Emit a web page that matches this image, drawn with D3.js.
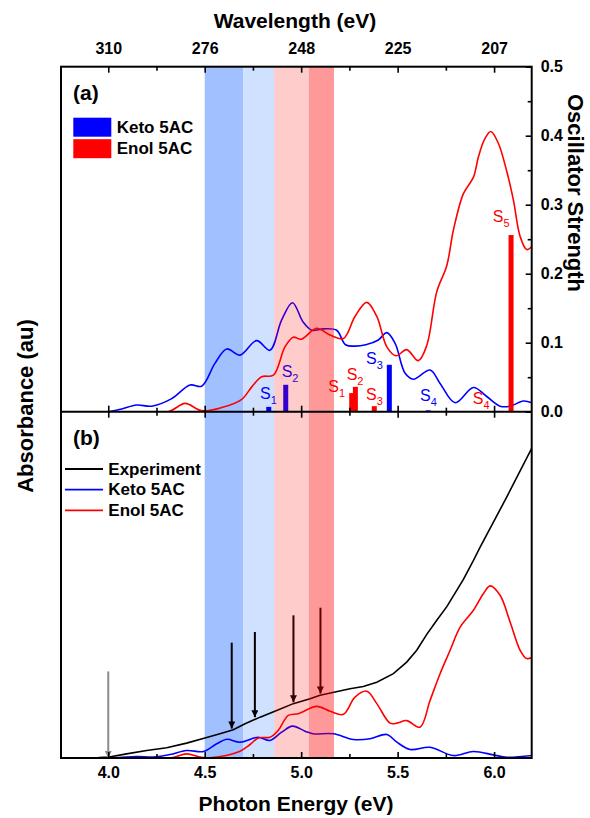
<!DOCTYPE html>
<html>
<head>
<meta charset="utf-8">
<script src="https://cdn.jsdelivr.net/npm/d3@7"></script>
<style>
  body { margin: 0; background: #fff; }
  svg text { font-family: Arial, "Liberation Sans", sans-serif; }
</style>
</head>
<body>
<div id="chart"></div>
<script>
// ---- data ----
// panel (a): simulated spectra (same units as oscillator strength axis)
let ketoE_a = [4.0, 4.07, 4.147, 4.225, 4.329, 4.424, 4.484, 4.553, 4.614, 4.683, 4.769, 4.838, 4.899, 4.955, 5.01, 5.055, 5.115, 5.184, 5.23, 5.279, 5.335, 5.40, 5.444, 5.487, 5.539, 5.582, 5.668, 5.72, 5.798, 5.893, 5.962, 6.031, 6.083, 6.152, 6.195];
let ketoA  = [0, 0.004, 0.0097, 0.008, 0.019, 0.0387, 0.037, 0.070, 0.091, 0.082, 0.103, 0.089, 0.133, 0.158, 0.130, 0.118, 0.120, 0.118, 0.097, 0.095, 0.097, 0.104, 0.1146, 0.099, 0.0556, 0.047, 0.0604, 0.041, 0.013, 0.035, 0.022, 0.008, 0.008, 0.0155, 0.013];
let enolE_a = [4.0, 4.311, 4.398, 4.484, 4.588, 4.692, 4.744, 4.795, 4.856, 4.916, 4.959, 5.0, 5.08, 5.15, 5.219, 5.279, 5.34, 5.392, 5.444, 5.492, 5.547, 5.607, 5.651, 5.703, 5.755, 5.789, 5.841, 5.893, 5.919, 5.953, 5.983, 6.022, 6.066, 6.10, 6.135, 6.169, 6.195];
let enolA  = [0, 0, 0.012, 0.0015, 0.006, 0.018, 0.036, 0.0507, 0.053, 0.094, 0.108, 0.105, 0.121, 0.111, 0.106, 0.138, 0.1585, 0.138, 0.094, 0.081, 0.09, 0.074, 0.096, 0.174, 0.212, 0.263, 0.316, 0.340, 0.3696, 0.396, 0.406, 0.389, 0.348, 0.307, 0.254, 0.235, 0.239];

// oscillator strengths (sticks)
let ketoStickE = [4.832, 4.92, 5.457, 5.659];
let ketoStickF = [0.007, 0.039, 0.068, 0.002];
let ketoStickN = ["1", "2", "3", "4"];
let ketoLabelE = [4.787, 4.899, 5.336, 5.616];
let ketoLabelF = [0.018, 0.050, 0.069, 0.016];

let enolStickE = [5.262, 5.281, 5.379, 5.85, 6.088];
let enolStickF = [0.027, 0.036, 0.008, 0.001, 0.256];
let enolStickN = ["1", "2", "3", "4", "5"];
let enolLabelE = [5.141, 5.236, 5.336, 5.890, 5.993];
let enolLabelF = [0.029, 0.046, 0.017, 0.011, 0.275];

// panel (b): absorbance (au)
let expE = [3.88, 3.95, 4.005, 4.095, 4.199, 4.303, 4.406, 4.501, 4.579, 4.648, 4.709, 4.787, 4.873, 4.959, 5.046, 5.098, 5.253, 5.322, 5.392, 5.478, 5.547, 5.599, 5.651, 5.703, 5.755, 5.789, 5.841, 5.889, 5.927, 6.066, 6.195];
let expB = [0, 0.001, 0.003, 0.012, 0.0217, 0.0295, 0.043, 0.058, 0.070, 0.0815, 0.099, 0.118, 0.137, 0.157, 0.171, 0.181, 0.200, 0.2067, 0.219, 0.2435, 0.277, 0.311, 0.357, 0.398, 0.437, 0.468, 0.516, 0.566, 0.608, 0.754, 0.894];
let ketoE_b = [4.005, 4.147, 4.233, 4.32, 4.406, 4.493, 4.562, 4.614, 4.683, 4.778, 4.838, 4.899, 4.955, 5.02, 5.06, 5.167, 5.271, 5.357, 5.444, 5.496, 5.565, 5.668, 5.789, 5.893, 5.996, 6.066, 6.195];
let ketoB  = [0, 0.0043, 0.003, 0.010, 0.0217, 0.019, 0.041, 0.054, 0.0457, 0.060, 0.0506, 0.0746, 0.092, 0.0775, 0.070, 0.070, 0.0535, 0.0555, 0.068, 0.0457, 0.0246, 0.031, 0.007, 0.0188, 0.009, 0.002, 0.007];
let enolE_b = [4.005, 4.32, 4.406, 4.493, 4.597, 4.683, 4.735, 4.778, 4.838, 4.881, 4.933, 4.985, 5.08, 5.15, 5.219, 5.279, 5.34, 5.392, 5.461, 5.496, 5.547, 5.616, 5.668, 5.72, 5.772, 5.824, 5.893, 5.945, 5.979, 6.031, 6.083, 6.135, 6.169, 6.195];
let enolB  = [0, 0, 0.012, 0.001, 0.006, 0.0197, 0.039, 0.058, 0.060, 0.0795, 0.123, 0.128, 0.149, 0.135, 0.126, 0.176, 0.193, 0.157, 0.1007, 0.1007, 0.108, 0.089, 0.166, 0.2435, 0.311, 0.378, 0.4266, 0.475, 0.497, 0.47, 0.393, 0.311, 0.287, 0.29];

// arrows in panel (b)
let arrowE   = [4.64, 4.76, 4.96, 5.10];
let arrowTop = [0.333, 0.364, 0.412, 0.434];
let arrowTip = [0.085, 0.118, 0.161, 0.186];
let greyArrowE = 4.0, greyArrowTop = 0.25, greyArrowTip = 0.0;

// highlighted energy windows (blue ones behind the data, red ones over it)
let blueEdges = [4.5, 4.7, 4.86];
let redEdges = [4.86, 5.04, 5.17];

// ticks
let majorE = [4.0, 4.5, 5.0, 5.5, 6.0];
let minorE = [4.25, 4.75, 5.25, 5.75];
let energyLabels = ["4.0", "4.5", "5.0", "5.5", "6.0"];
let wavelengthLabels = ["310", "276", "248", "225", "207"];
let oscTicks = [0, 0.1, 0.2, 0.3, 0.4, 0.5];
let oscMinor = [0.05, 0.15, 0.25, 0.35, 0.45];

// ---- layout ----
const W = 590, H = 818;
const xL = 61, xR = 531.7, yT = 66.7, yM = 411.7, yBot = 758;

var svg = d3.select("#chart").append("svg")
  .attr("width", W).attr("height", H);

var x = d3.scaleLinear().domain([3.755, 6.195]).range([xL, xR]);
var yA = d3.scaleLinear().domain([0, 0.5]).range([yM, yT]);
var yB = d3.scaleLinear().domain([0, 1]).range([yBot, yM]);

let defs = svg.append("defs");
defs.append("clipPath").attr("id", "clipA")
  .append("rect").attr("x", xL).attr("y", yT).attr("width", xR - xL).attr("height", yM - yT);
defs.append("clipPath").attr("id", "clipB")
  .append("rect").attr("x", xL).attr("y", yM).attr("width", xR - xL).attr("height", yBot - yM);

let lineA = d3.line().x(d => x(d[0])).y(d => yA(d[1])).curve(d3.curveCatmullRom.alpha(0.5));
let lineB = d3.line().x(d => x(d[0])).y(d => yB(d[1])).curve(d3.curveCatmullRom.alpha(0.5));
let zip = (a, b) => a.map((v, i) => [v, b[i]]);

// blue windows behind everything
let blueFill = ["#a0c0ff", "#d0e0ff"];
svg.selectAll(".bband").data(d3.pairs(blueEdges)).enter().append("rect")
  .attr("x", d => x(d[0])).attr("width", d => x(d[1]) - x(d[0]))
  .attr("y", yT).attr("height", yBot - yT)
  .attr("fill", (d, i) => blueFill[i]);

// ---- panel (a) ----
var gA = svg.append("g").attr("clip-path", "url(#clipA)");
gA.append("path").datum(zip(ketoE_a, ketoA)).attr("d", lineA)
  .attr("fill", "none").attr("stroke", "#0000ff").attr("stroke-width", 1.6);
gA.append("path").datum(zip(enolE_a, enolA)).attr("d", lineA)
  .attr("fill", "none").attr("stroke", "#ff0000").attr("stroke-width", 1.6);

var barW = 5;
gA.selectAll(".kbar").data(zip(ketoStickE, ketoStickF)).enter().append("rect")
  .attr("x", d => x(d[0]) - barW / 2).attr("y", d => yA(d[1]))
  .attr("width", barW).attr("height", d => yA(0) - yA(d[1]))
  .attr("fill", "#0000ff");
gA.selectAll(".ebar").data(zip(enolStickE, enolStickF)).enter().append("rect")
  .attr("x", d => x(d[0]) - barW / 2).attr("y", d => yA(d[1]))
  .attr("width", barW).attr("height", d => yA(0) - yA(d[1]))
  .attr("fill", "#ff0000");

let stateLabel = (g, es, fs, ns, color) => {
  es.forEach((e, i) => {
    let t = g.append("text").attr("x", x(e)).attr("y", yA(fs[i]))
      .attr("fill", color).style("font-size", "16px");
    t.append("tspan").text("S");
    t.append("tspan").attr("dy", 5).style("font-size", "11px").text(ns[i]);
  });
};
stateLabel(svg, ketoLabelE, ketoLabelF, ketoStickN, "#0000ff");
stateLabel(svg, enolLabelE, enolLabelF, enolStickN, "#ff0000");

// ---- panel (b) ----
var gB = svg.append("g").attr("clip-path", "url(#clipB)");
gB.append("path").datum(zip(ketoE_b, ketoB)).attr("d", lineB)
  .attr("fill", "none").attr("stroke", "#0000ff").attr("stroke-width", 1.6);
gB.append("path").datum(zip(enolE_b, enolB)).attr("d", lineB)
  .attr("fill", "none").attr("stroke", "#ff0000").attr("stroke-width", 1.6);
gB.append("path").datum(zip(expE, expB)).attr("d", d3.line().x(d => x(d[0])).y(d => yB(d[1])))
  .attr("fill", "none").attr("stroke", "#000").attr("stroke-width", 1.6);

// arrows
[["headK", "#000"], ["headG", "#8c8c8c"]].forEach(m => {
  defs.append("marker").attr("id", m[0])
    .attr("viewBox", "0 0 10 10").attr("refX", 10).attr("refY", 5)
    .attr("markerUnits", "userSpaceOnUse").attr("markerWidth", 12).attr("markerHeight", 7)
    .attr("orient", "auto")
    .append("path").attr("d", "M0,0L10,5L0,10Z").attr("fill", m[1]);
});
svg.selectAll(".arrow").data(arrowE).enter().append("line")
  .attr("x1", d => x(d)).attr("x2", d => x(d))
  .attr("y1", (d, i) => yB(arrowTop[i])).attr("y2", (d, i) => yB(arrowTip[i]))
  .attr("stroke", "#000").attr("stroke-width", 2).attr("marker-end", "url(#headK)");
svg.append("line")
  .attr("x1", x(greyArrowE)).attr("x2", x(greyArrowE))
  .attr("y1", yB(greyArrowTop)).attr("y2", yB(greyArrowTip))
  .attr("stroke", "#8c8c8c").attr("stroke-width", 2).attr("marker-end", "url(#headG)");

// red windows, translucent, drawn over the data
let redAlpha = [0.2, 0.4];
svg.selectAll(".rband").data(d3.pairs(redEdges)).enter().append("rect")
  .attr("x", d => x(d[0])).attr("width", d => x(d[1]) - x(d[0]))
  .attr("y", yT).attr("height", yBot - yT)
  .attr("fill", "#ff0000").attr("fill-opacity", (d, i) => redAlpha[i]);

// ---- axes ----
let styleAxis = (g) => {
  g.select(".domain").remove();
  g.selectAll("line").attr("stroke", "#000").attr("stroke-width", 1.6);
  g.selectAll("text").style("font-size", "16px").style("font-weight", "bold")
    .attr("fill", "#000").attr("font-family", null);
};

// top: wavelength
var topAx = svg.append("g").attr("transform", `translate(0,${yT})`)
  .call(d3.axisTop(x).tickValues(majorE).tickSizeInner(-6).tickPadding(13)
    .tickFormat((d, i) => wavelengthLabels[i]));
styleAxis(topAx);
var topMin = svg.append("g").attr("transform", `translate(0,${yT})`)
  .call(d3.axisTop(x).tickValues(minorE).tickSizeInner(-4).tickFormat(""));
styleAxis(topMin);

// middle line ticks (both panels)
[[-6, -4], [6, 4]].forEach(s => {
  let g1 = svg.append("g").attr("transform", `translate(0,${yM})`)
    .call(d3.axisBottom(x).tickValues(majorE).tickSizeInner(s[0]).tickFormat(""));
  styleAxis(g1);
  let g2 = svg.append("g").attr("transform", `translate(0,${yM})`)
    .call(d3.axisBottom(x).tickValues(minorE).tickSizeInner(s[1]).tickFormat(""));
  styleAxis(g2);
});

// bottom: photon energy
var botAx = svg.append("g").attr("transform", `translate(0,${yBot})`)
  .call(d3.axisBottom(x).tickValues(majorE).tickSizeInner(-6).tickPadding(9)
    .tickFormat((d, i) => energyLabels[i]));
styleAxis(botAx);
var botMin = svg.append("g").attr("transform", `translate(0,${yBot})`)
  .call(d3.axisBottom(x).tickValues(minorE).tickSizeInner(-4).tickFormat(""));
styleAxis(botMin);

// right: oscillator strength
var rAx = svg.append("g").attr("transform", `translate(${xR},0)`)
  .call(d3.axisRight(yA).tickValues(oscTicks).tickSizeInner(-6).tickPadding(9)
    .tickFormat(d3.format(".1f")));
styleAxis(rAx);
var rMin = svg.append("g").attr("transform", `translate(${xR},0)`)
  .call(d3.axisRight(yA).tickValues(oscMinor).tickSizeInner(-4).tickFormat(""));
styleAxis(rMin);

// frame
svg.append("rect").attr("x", xL).attr("y", yT)
  .attr("width", xR - xL).attr("height", yBot - yT)
  .attr("fill", "none").attr("stroke", "#000").attr("stroke-width", 2);
svg.append("line").attr("x1", xL).attr("x2", xR).attr("y1", yM).attr("y2", yM)
  .attr("stroke", "#000").attr("stroke-width", 2);

// ---- titles ----
svg.append("text").attr("x", 295).attr("y", 28).attr("text-anchor", "middle")
  .style("font-size", "21px").style("font-weight", "bold").text("Wavelength (eV)");
svg.append("text").attr("x", 296).attr("y", 811).attr("text-anchor", "middle")
  .style("font-size", "21px").style("font-weight", "bold").text("Photon Energy (eV)");
svg.append("text").attr("transform", "translate(33,406) rotate(-90)").attr("text-anchor", "middle")
  .style("font-size", "22px").style("font-weight", "bold").text("Absorbance (au)");
svg.append("text").attr("transform", "translate(568,193) rotate(90)").attr("text-anchor", "middle")
  .style("font-size", "22px").style("font-weight", "bold").text("Oscillator Strength");

// panel tags
svg.append("text").attr("x", 73).attr("y", 100)
  .style("font-size", "21px").style("font-weight", "bold").text("(a)");
svg.append("text").attr("x", 73).attr("y", 445)
  .style("font-size", "21px").style("font-weight", "bold").text("(b)");

// legend (a)
let legNames = ["Keto 5AC", "Enol 5AC"];
let legColors = ["#0000ff", "#ff0000"];
legNames.forEach((n, i) => {
  svg.append("rect").attr("x", 73.3).attr("y", 117.7 + i * 21.5)
    .attr("width", 38).attr("height", 19).attr("fill", legColors[i]);
  svg.append("text").attr("x", 116.7).attr("y", 132.5 + i * 21.5)
    .style("font-size", "17px").style("font-weight", "bold").text(n);
});

// legend (b)
let legBNames = ["Experiment", "Keto 5AC", "Enol 5AC"];
let legBColors = ["#000", "#0000ff", "#ff0000"];
legBNames.forEach((n, i) => {
  svg.append("line").attr("x1", 65).attr("x2", 103)
    .attr("y1", 469 + i * 20.7).attr("y2", 469 + i * 20.7)
    .attr("stroke", legBColors[i]).attr("stroke-width", 1.8);
  svg.append("text").attr("x", 108.3).attr("y", 474.5 + i * 20.7)
    .style("font-size", "17px").style("font-weight", "bold").text(n);
});
</script>
</body>
</html>
